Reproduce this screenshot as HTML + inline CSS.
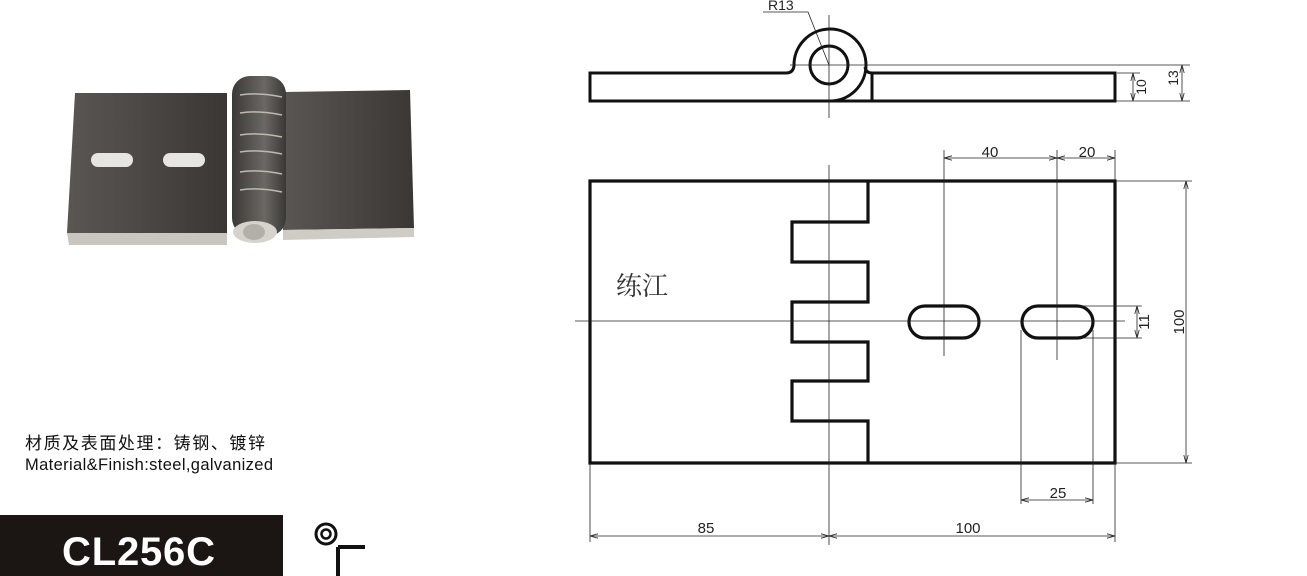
<!DOCTYPE html>
<html><head><meta charset="utf-8"><style>
body{margin:0;background:#fff;width:1307px;height:576px;overflow:hidden;position:relative;font-family:"Liberation Sans","Noto Sans CJK SC",sans-serif}
</style></head><body>
<svg width="1307" height="576" style="position:absolute;left:0;top:0" font-family="Liberation Sans, Noto Sans CJK SC, sans-serif">
<defs>
<marker id="a" markerWidth="8" markerHeight="6" refX="8" refY="3" orient="auto-start-reverse" markerUnits="userSpaceOnUse"><path d="M0,0.8 L8,3 L0,5.2" fill="none" stroke="#222" stroke-width="0.8"/></marker>
<linearGradient id="g1" x1="0" x2="1"><stop offset="0" stop-color="#5a5653"/><stop offset="1" stop-color="#3a3735"/></linearGradient>
<linearGradient id="g2" x1="0" x2="1"><stop offset="0" stop-color="#3b3937"/><stop offset="0.6" stop-color="#6b6864"/><stop offset="1" stop-color="#3a3836"/></linearGradient>
</defs>
<!-- photo -->
<polygon points="75,93 227,93 227,233 67,233" fill="url(#g1)"/>
<polygon points="67,233 227,233 227,245 69,245" fill="#c9c6c0"/>
<polygon points="283,92 410,90 414,228 283,230" fill="url(#g1)"/>
<polygon points="283,230 414,228 414,237 283,240" fill="#cfccc6"/>
<rect x="232" y="76" width="54" height="160" rx="18" fill="url(#g2)"/>
<g stroke="#bdb9b2" stroke-width="1.5" fill="none">
<path d="M240,95 Q258,92 282,97"/><path d="M240,113 Q258,110 282,115"/><path d="M240,135 Q258,132 282,137"/><path d="M240,152 Q258,149 282,154"/><path d="M240,172 Q258,169 282,174"/><path d="M240,190 Q258,187 282,192"/></g>
<ellipse cx="255" cy="232" rx="22" ry="11" fill="#d6d3cd"/><ellipse cx="254" cy="232" rx="11" ry="8" fill="#b3b0aa"/>
<rect x="91" y="153" width="42" height="14" rx="7" fill="#e6e5e2"/>
<rect x="163" y="153" width="42" height="14" rx="7" fill="#e6e5e2"/>

<!-- side view -->
<g fill="none" stroke="#111" stroke-width="3">
<path d="M786,73 L590,73 L590,101 L829,101"/>
<path d="M786,73 Q793,73 794,66 A36,36 0 1 1 829,101 L872,101 L872,73 Q866,73 865,67"/>
<path d="M872,73 L1115,73 L1115,101 L872,101"/>
<circle cx="829" cy="65" r="19"/>
</g>
<g stroke="#222" stroke-width="0.8" fill="none">
<line x1="829" y1="15" x2="829" y2="118"/>
<line x1="790" y1="65" x2="1190" y2="65"/>
<line x1="1115" y1="101" x2="1190" y2="101"/>
<line x1="1117" y1="73" x2="1140" y2="73"/>
<line x1="1133" y1="73" x2="1133" y2="101" marker-start="url(#a)" marker-end="url(#a)"/>
<line x1="1182" y1="65" x2="1182" y2="101" marker-start="url(#a)" marker-end="url(#a)"/>
<path d="M763,12 L808,12 L829,65"/>
</g>
<text x="768" y="10" font-size="14" fill="#222">R13</text>
<text transform="translate(1146,87) rotate(-90)" font-size="14" text-anchor="middle" fill="#222">10</text>
<text transform="translate(1178,78) rotate(-90)" font-size="14" text-anchor="middle" fill="#222">13</text>

<!-- plan view -->
<g fill="none" stroke="#111" stroke-width="3.2">
<path d="M868,181 L590,181 L590,463 L868,463"/>
<path d="M868,181 L1115,181 L1115,463 L868,463"/>
<path d="M868,181 L868,222 L792,222 L792,262 L868,262 L868,302 L792,302 L792,342 L868,342 L868,381 L792,381 L792,421 L868,421 L868,463"/>
<rect x="909" y="306" width="70" height="32" rx="16"/>
<rect x="1022" y="306" width="71" height="32" rx="16"/>
</g>
<g stroke="#222" stroke-width="0.8" fill="none">
<line x1="829" y1="165" x2="829" y2="545"/>
<line x1="575" y1="321" x2="1125" y2="321"/>
<line x1="944" y1="150" x2="944" y2="356"/>
<line x1="1057" y1="150" x2="1057" y2="360"/>
<line x1="1115" y1="150" x2="1115" y2="181"/>
<line x1="944" y1="158" x2="1057" y2="158" marker-start="url(#a)" marker-end="url(#a)"/>
<line x1="1057" y1="158" x2="1115" y2="158" marker-start="url(#a)" marker-end="url(#a)"/>
<line x1="1080" y1="306" x2="1142" y2="306"/>
<line x1="1080" y1="338" x2="1142" y2="338"/>
<line x1="1137" y1="306" x2="1137" y2="338" marker-start="url(#a)" marker-end="url(#a)"/>
<line x1="1115" y1="181" x2="1192" y2="181"/>
<line x1="1115" y1="463" x2="1192" y2="463"/>
<line x1="1186" y1="181" x2="1186" y2="463" marker-start="url(#a)" marker-end="url(#a)"/>
<line x1="1021" y1="330" x2="1021" y2="504"/>
<line x1="1093" y1="330" x2="1093" y2="504"/>
<line x1="1021" y1="500" x2="1093" y2="500" marker-start="url(#a)" marker-end="url(#a)"/>
<line x1="590" y1="463" x2="590" y2="542"/>
<line x1="1115" y1="463" x2="1115" y2="542"/>
<line x1="590" y1="536" x2="829" y2="536" marker-start="url(#a)" marker-end="url(#a)"/>
<line x1="829" y1="536" x2="1115" y2="536" marker-start="url(#a)" marker-end="url(#a)"/>
</g>
<g font-size="15" fill="#222" text-anchor="middle">
<text x="990" y="157">40</text>
<text x="1087" y="157">20</text>
<text x="1058" y="498">25</text>
<text x="706" y="533">85</text>
<text x="968" y="533">100</text>
<text transform="translate(1149,322) rotate(-90)">11</text>
<text transform="translate(1184,322) rotate(-90)">100</text>
</g>
<text x="616" y="295" font-size="26" fill="#333" font-family="Liberation Serif, Noto Serif CJK SC, serif">练江</text>

<!-- bottom left -->
<text x="25" y="449" font-size="17" fill="#111" textLength="240">材质及表面处理：铸钢、镀锌</text>
<text x="25" y="470" font-size="16.5" fill="#111" textLength="248">Material&amp;Finish:steel,galvanized</text>
<rect x="0" y="515" width="283" height="61" fill="#1b1514"/>
<text x="62" y="565" font-size="40" font-weight="bold" fill="#fff" textLength="153">CL256C</text>
<circle cx="326" cy="534" r="10" fill="none" stroke="#111" stroke-width="3"/>
<circle cx="326" cy="534" r="4.5" fill="none" stroke="#111" stroke-width="2.5"/>
<path d="M338,547 L365,547 M338,547 L338,576" stroke="#111" stroke-width="4" fill="none"/>
</svg>
</body></html>
